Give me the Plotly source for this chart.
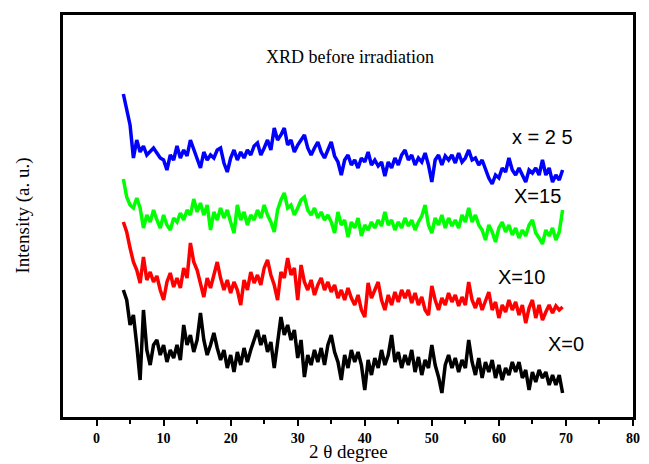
import numpy as np
import plotly.graph_objects as go

# 2-theta grid (degrees)
theta = np.arange(4.0, 69.75, 0.5)

# Intensities (arbitrary units; curves are offset vertically)
x25 = [323,307,292,259,277,265,271,262,265,269,
       264,259,257,247,262,257,271,259,267,261,
       277,267,257,249,265,257,262,259,267,269,
       254,245,259,267,257,265,259,267,262,271,
       274,262,269,277,267,289,277,282,289,272,
       277,265,272,277,282,269,262,269,275,265,
       259,267,275,261,255,242,257,262,252,257,
       249,259,255,265,252,257,251,255,241,255,
       249,259,252,262,267,257,262,252,259,255,
       264,252,235,257,262,252,261,257,262,254,
       264,255,259,267,257,259,252,257,247,239,
       233,242,239,249,245,259,247,242,249,241,
       235,247,244,249,242,257,242,249,235,242,
       237,247]
x15 = [238,220,212,209,219,209,189,202,195,207,
       197,189,202,192,187,199,195,204,197,207,
       202,218,205,214,202,212,187,205,197,209,
       199,207,195,184,212,197,205,192,202,197,
       207,199,212,202,195,185,207,217,224,209,
       212,202,209,217,220,207,202,209,199,205,
       197,202,195,184,205,192,197,180,195,189,
       199,181,192,187,195,189,197,191,205,192,
       197,187,195,189,199,191,197,187,195,201,
       212,192,184,199,192,202,189,199,191,197,
       189,202,195,209,195,202,192,187,177,192,
       185,175,189,195,185,192,182,189,179,187,
       181,192,197,184,179,173,187,181,189,177,
       185,207]
x10 = [195,185,169,155,147,134,160,137,145,135,
       141,127,117,135,144,130,139,129,149,139,
       174,155,147,135,120,139,129,142,155,139,
       127,137,124,135,127,112,137,127,145,134,
       142,132,149,157,142,132,117,145,139,159,
       142,149,117,152,135,127,137,122,132,139,
       127,135,125,132,119,127,117,129,119,112,
       122,107,100,134,119,127,135,117,107,122,
       112,125,115,127,119,127,114,124,112,120,
       107,102,131,117,107,119,112,124,115,122,
       111,120,112,135,117,109,119,107,115,125,
       107,115,99,112,105,117,107,115,102,112,
       94,109,117,99,112,97,105,112,104,111,
       107,110]
x0 = [127,117,92,102,72,37,107,67,52,72,
      77,62,72,55,67,59,72,57,92,72,
      82,65,77,104,77,62,72,84,69,57,
      67,49,62,45,65,52,69,55,67,77,
      87,72,82,65,75,49,77,100,82,92,
      77,87,59,77,40,62,52,67,55,69,
      52,72,82,65,55,37,62,49,67,55,
      65,52,27,57,42,59,49,67,52,62,
      82,55,65,49,62,52,67,45,60,42,
      57,49,72,52,40,24,52,62,49,59,
      45,57,49,77,55,42,59,39,55,45,
      57,39,52,37,49,42,55,45,55,39,
      47,27,45,35,47,39,45,32,42,32,
      42,24]

series = [("x = 2 5", x25, "#0000FF"), ("X=15", x15, "#00FF00"),
          ("X=10", x10, "#FF0000"), ("X=0", x0, "#000000")]

fig = go.Figure()
for name, ys, col in series:
    n = min(len(ys), len(theta))
    fig.add_trace(go.Scatter(x=theta[:n], y=ys[:n], mode="lines", name=name,
                             line=dict(color=col, width=3.5), showlegend=False))

serif = "Liberation Serif, Times New Roman, serif"
sans = "Liberation Sans, Arial, sans-serif"

fig.update_layout(
    width=649, height=464,
    margin=dict(l=63, r=9, t=15, b=47),
    paper_bgcolor="white", plot_bgcolor="white",
    xaxis=dict(range=[-5, 80], tickvals=list(range(0, 81, 10)),
               ticks="outside", ticklen=6, tickwidth=2, tickcolor="black",
               minor=dict(tickvals=list(range(5, 80, 10)), ticks="outside",
                          ticklen=4, tickwidth=2, tickcolor="black"),
               showline=True, linewidth=3, linecolor="black", mirror=True,
               showgrid=False, zeroline=False,
               tickfont=dict(family=serif, size=14, color="black", weight="bold")),
    yaxis=dict(range=[0, 402], showticklabels=False, ticks="",
               showline=True, linewidth=3, linecolor="black", mirror=True,
               showgrid=False, zeroline=False),
)

annots = [
    dict(text="XRD before irradiation", x=0.503, y=0.896, yanchor="middle",
         font=dict(family=serif, size=18)),
    dict(text="2 θ degree", x=0.5, y=-0.1144, yanchor="bottom",
         font=dict(family=serif, size=19)),
    dict(text="Intensity (a. u.)", x=-0.071, y=0.5, yanchor="middle", textangle=-90,
         font=dict(family=serif, size=19)),
    dict(text="x = 2 5", x=0.841, y=0.697, yanchor="middle", font=dict(family=sans, size=20)),
    dict(text="X=15", x=0.832, y=0.550, yanchor="middle", font=dict(family=sans, size=20)),
    dict(text="X=10", x=0.804, y=0.348, yanchor="middle", font=dict(family=sans, size=20)),
    dict(text="X=0", x=0.882, y=0.182, yanchor="middle", font=dict(family=sans, size=20)),
]
for a in annots:
    f = a.pop("font")
    f["color"] = "black"
    fig.add_annotation(xref="paper", yref="paper", showarrow=False,
                       xanchor="center", borderpad=0, font=f, **a)

fig.write_html("out.html")
